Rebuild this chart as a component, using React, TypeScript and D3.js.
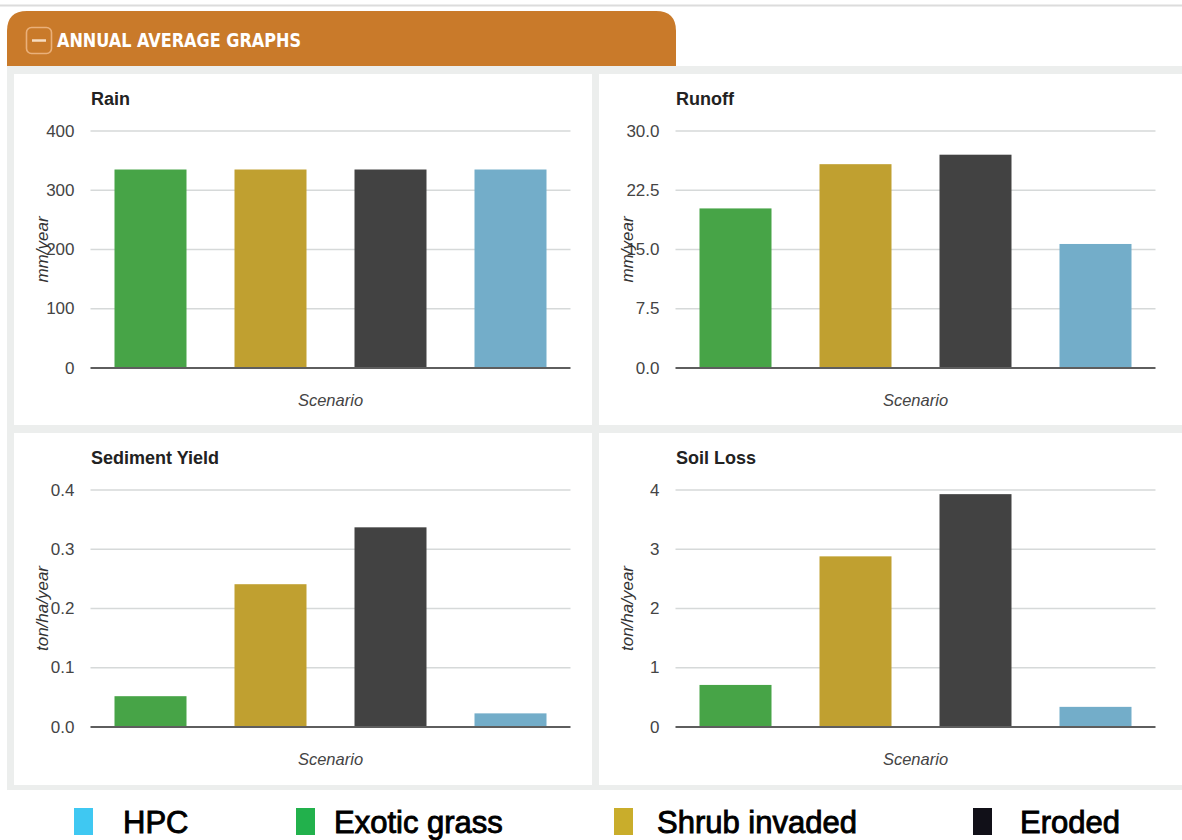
import React from "react";
import * as d3 from "d3";

const scenarios = ["Exotic grass", "Shrub invaded", "Eroded", "HPC"];
const barColors = ["#47a447", "#c0a030", "#424242", "#73adc9"];

const rainValues = [335, 335, 335, 335];
const runoffValues = [20.2, 25.8, 27.0, 15.7];
const sedimentValues = [0.052, 0.241, 0.337, 0.023];
const soilLossValues = [0.71, 2.88, 3.93, 0.34];

const rainTicks = [0, 100, 200, 300, 400];
const runoffTicks = [0, 7.5, 15, 22.5, 30];
const sedimentTicks = [0, 0.1, 0.2, 0.3, 0.4];
const soilLossTicks = [0, 1, 2, 3, 4];

const legendLabels = ["HPC", "Exotic grass", "Shrub invaded", "Eroded"];
const legendColors = ["#3fc8f2", "#22b14c", "#c9ad2b", "#111018"];

const headerTitle = "ANNUAL AVERAGE GRAPHS";
const xAxisTitle = "Scenario";

interface PanelSpec {
  title: string;
  unit: string;
  values: number[];
  ticks: number[];
  fmt: (v: number) => string;
  x: number;
  y: number;
  w: number;
  h: number;
}

const f1 = d3.format(".1f");
const f0 = d3.format("d");

function Panel({ p }: { p: PanelSpec }) {
  const plotLeft = 76.5;
  const plotTop = 57;
  const plotW = 480;
  const plotH = 237;
  const xs = d3
    .scaleBand<string>()
    .domain(scenarios)
    .range([0, plotW])
    .paddingInner(0.4)
    .paddingOuter(0.2);
  const ys = d3
    .scaleLinear()
    .domain([p.ticks[0], p.ticks[p.ticks.length - 1]])
    .range([plotH, 0]);
  return (
    <g transform={`translate(${p.x},${p.y})`}>
      <rect x={0} y={0} width={p.w} height={p.h} fill="#ffffff" />
      <text
        x={plotLeft + 0.5}
        y={31}
        fontFamily="'Liberation Sans', Arial, sans-serif"
        fontWeight="bold"
        fontSize={18}
        fill="#222"
      >
        {p.title}
      </text>
      <g transform={`translate(${plotLeft},${plotTop})`}>
        {p.ticks.map((t, i) => (
          <g key={i}>
            {i > 0 && (
              <line
                x1={0}
                x2={plotW}
                y1={ys(t)}
                y2={ys(t)}
                stroke="#d6d9d9"
                strokeWidth={1.6}
              />
            )}
            <text
              x={-16}
              y={ys(t)}
              textAnchor="end"
              dominantBaseline="central"
              fontFamily="'Liberation Sans', Arial, sans-serif"
              fontSize={17}
              fill="#444"
            >
              {p.fmt(t)}
            </text>
          </g>
        ))}
        {p.values.map((v, i) => (
          <rect
            key={i}
            x={xs(scenarios[i])}
            y={ys(v)}
            width={xs.bandwidth()}
            height={plotH - ys(v)}
            fill={barColors[i]}
          />
        ))}
        <line
          x1={0}
          x2={plotW}
          y1={plotH}
          y2={plotH}
          stroke="#5e5e5e"
          strokeWidth={2}
        />
        <text
          x={plotW / 2}
          y={275}
          textAnchor="middle"
          fontFamily="'Liberation Sans', Arial, sans-serif"
          fontStyle="italic"
          fontSize={16.5}
          fill="#444"
        >
          {xAxisTitle}
        </text>
      </g>
      <text
        transform={`translate(${28},${plotTop + plotH / 2}) rotate(-90)`}
        textAnchor="middle"
        dominantBaseline="central"
        fontFamily="'Liberation Sans', Arial, sans-serif"
        fontStyle="italic"
        fontSize={17}
        fill="#333"
      >
        {p.unit}
      </text>
    </g>
  );
}

export default function App() {
  const panels: PanelSpec[] = [
    { title: "Rain", unit: "mm/year", values: rainValues, ticks: rainTicks, fmt: f0, x: 14, y: 74, w: 578, h: 351 },
    { title: "Runoff", unit: "mm/year", values: runoffValues, ticks: runoffTicks, fmt: f1, x: 599, y: 74, w: 583, h: 351 },
    { title: "Sediment Yield", unit: "ton/ha/year", values: sedimentValues, ticks: sedimentTicks, fmt: f1, x: 14, y: 433, w: 578, h: 352 },
    { title: "Soil Loss", unit: "ton/ha/year", values: soilLossValues, ticks: soilLossTicks, fmt: f0, x: 599, y: 433, w: 583, h: 352 },
  ];
  const legendSquareX = [74, 296, 614, 973];
  const legendTextX = [123, 334, 657, 1020];

  const tabL = 7, tabR = 676, tabT = 11, tabB = 66, r = 20;
  const tabPath = `M${tabL},${tabB} L${tabL},${tabT + r} Q${tabL},${tabT} ${tabL + r},${tabT} L${tabR - r},${tabT} Q${tabR},${tabT} ${tabR},${tabT + r} L${tabR},${tabB} Z`;

  return (
    <svg
      width={1182}
      height={840}
      style={{ position: "absolute", left: 0, top: 0, background: "#fff" }}
    >
      <rect x={0} y={0} width={1182} height={840} fill="#ffffff" />
      <line x1={0} x2={1182} y1={5.5} y2={5.5} stroke="#dcdcdc" strokeWidth={2} />
      <path d={tabPath} fill="#c97a2a" />
      <rect x={26.5} y={27.5} width={25} height={26} rx={5} fill="none" stroke="#eab07a" strokeWidth={1.6} />
      <line x1={32} x2={46} y1={40.5} y2={40.5} stroke="#f6dcc0" strokeWidth={2.5} />
      <text
        x={57}
        y={47}
        fontFamily="'DejaVu Sans Condensed', 'Liberation Sans Narrow', sans-serif"
        fontWeight="bold"
        fontSize={20}
        fill="#ffffff"
        textLength={244}
        lengthAdjust="spacingAndGlyphs"
      >
        {headerTitle}
      </text>
      <rect x={7} y={66} width={1175} height={724} fill="#eceeed" />
      {panels.map((p, i) => (
        <Panel key={i} p={p} />
      ))}
      {legendLabels.map((l, i) => (
        <g key={l}>
          <rect x={legendSquareX[i]} y={808} width={19} height={27} fill={legendColors[i]} />
          <text
            x={legendTextX[i]}
            y={833}
            fontFamily="'Liberation Sans', Arial, sans-serif"
            fontSize={31}
            fill="#000"
            stroke="#000"
            strokeWidth={0.9}
          >
            {l}
          </text>
        </g>
      ))}
    </svg>
  );
}
